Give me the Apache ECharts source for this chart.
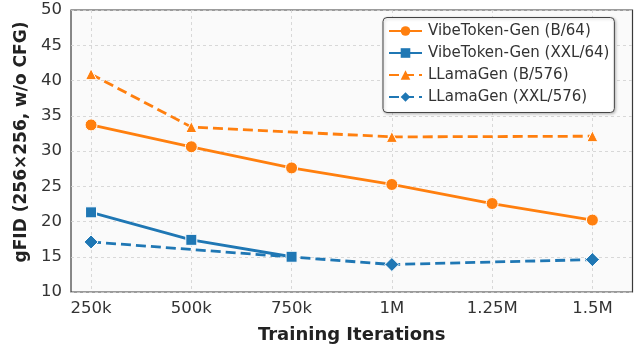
<!DOCTYPE html>
<html>
<head>
<meta charset="utf-8">
<script src="https://cdn.jsdelivr.net/npm/echarts@6/dist/echarts.min.js"></script>
<style>html,body{margin:0;padding:0;background:#fff}#c{width:634px;height:349px}</style>
</head>
<body>
<div id="c"></div>
<script>
const xTickValues = [250000, 500000, 750000, 1000000, 1250000, 1500000];
const xTickLabels = ['250k', '500k', '750k', '1M', '1.25M', '1.5M'];

const vibeBIters = [250000, 500000, 750000, 1000000, 1250000, 1500000];
const vibeBValues = [33.7, 30.6, 27.6, 25.25, 22.55, 20.2];

const vibeXXLIters = [250000, 500000, 750000];
const vibeXXLValues = [21.3, 17.4, 15.0];

const llamaBIters = [250000, 500000, 1000000, 1500000];
const llamaBValues = [40.9, 33.4, 32.0, 32.1];

const llamaXXLIters = [250000, 1000000, 1500000];
const llamaXXLValues = [17.1, 13.9, 14.6];

const seriesNames = ['VibeToken-Gen (B/64)', 'VibeToken-Gen (XXL/64)', 'LLamaGen (B/576)', 'LLamaGen (XXL/576)'];

const ORANGE = '#ff7f0e', BLUE = '#1f77b4';
const FONT = 'DejaVu Sans';

function pairs(xs, ys) { return xs.map((x, i) => [x, ys[i]]); }

function mkSeries(name, data, color, dashed, symbol, size) {
  return {
    name, type: 'line', data,
    symbol, symbolSize: size,
    lineStyle: { color, width: 2.8, type: dashed ? [10, 5] : 'solid' },
    itemStyle: { color, borderColor: '#fff', borderWidth: 1 },
    emphasis: { disabled: true },
    animation: false
  };
}

const chart = echarts.init(document.getElementById('c'));
chart.setOption({
  animation: false,
  grid: {
    left: 71, right: 1.5, top: 10, bottom: 56.5,
    show: true, backgroundColor: '#fafafa', borderColor: '#3a3a3a', borderWidth: 1.2
  },
  xAxis: {
    type: 'value', min: 200000, max: 1600000,
    name: 'Training Iterations', nameLocation: 'middle', nameGap: 34,
    nameTextStyle: { fontFamily: FONT, fontWeight: 'bold', fontSize: 18, color: '#222' },
    axisLine: { show: false },
    axisTick: { show: false, customValues: xTickValues },
    axisLabel: {
      customValues: xTickValues, margin: 8,
      fontFamily: FONT, fontSize: 16.5, color: '#333',
      formatter: v => xTickLabels[xTickValues.indexOf(v)]
    },
    splitLine: { show: true, lineStyle: { color: '#d0d0d0', type: [3, 3], width: 0.8 } }
  },
  yAxis: {
    type: 'value', min: 10, max: 50, interval: 5,
    name: 'gFID (256×256, w/o CFG)', nameLocation: 'middle', nameGap: 38,
    nameTextStyle: { fontFamily: FONT, fontWeight: 'bold', fontSize: 17, color: '#222', padding: [0, 0, 0, 18] },
    axisLine: { show: false },
    axisTick: { show: false },
    axisLabel: { margin: 9, fontFamily: FONT, fontSize: 16.5, color: '#333' },
    splitLine: { show: true, lineStyle: { color: '#d0d0d0', type: [3, 3], width: 0.8 } }
  },
  legend: {
    orient: 'vertical', left: 383, top: 17.5,
    padding: [6, 5, 8, 5], itemGap: 7, itemWidth: 33, itemHeight: 12,
    backgroundColor: '#ffffff', borderColor: '#444', borderWidth: 1, borderRadius: 4,
    shadowColor: 'rgba(0,0,0,0.25)', shadowBlur: 3, shadowOffsetX: 1, shadowOffsetY: 1,
    textStyle: { fontFamily: FONT, fontSize: 15, color: '#333', padding: [0, 0, 0, 1] },
    itemStyle: { borderWidth: 0 },
    data: seriesNames
  },
  series: [
    mkSeries(seriesNames[0], pairs(vibeBIters, vibeBValues), ORANGE, false, 'circle', 12),
    mkSeries(seriesNames[1], pairs(vibeXXLIters, vibeXXLValues), BLUE, false, 'rect', 11),
    mkSeries(seriesNames[2], pairs(llamaBIters, llamaBValues), ORANGE, true, 'triangle', 11),
    mkSeries(seriesNames[3], pairs(llamaXXLIters, llamaXXLValues), BLUE, true, 'diamond', 14)
  ]
});
</script>
</body>
</html>
